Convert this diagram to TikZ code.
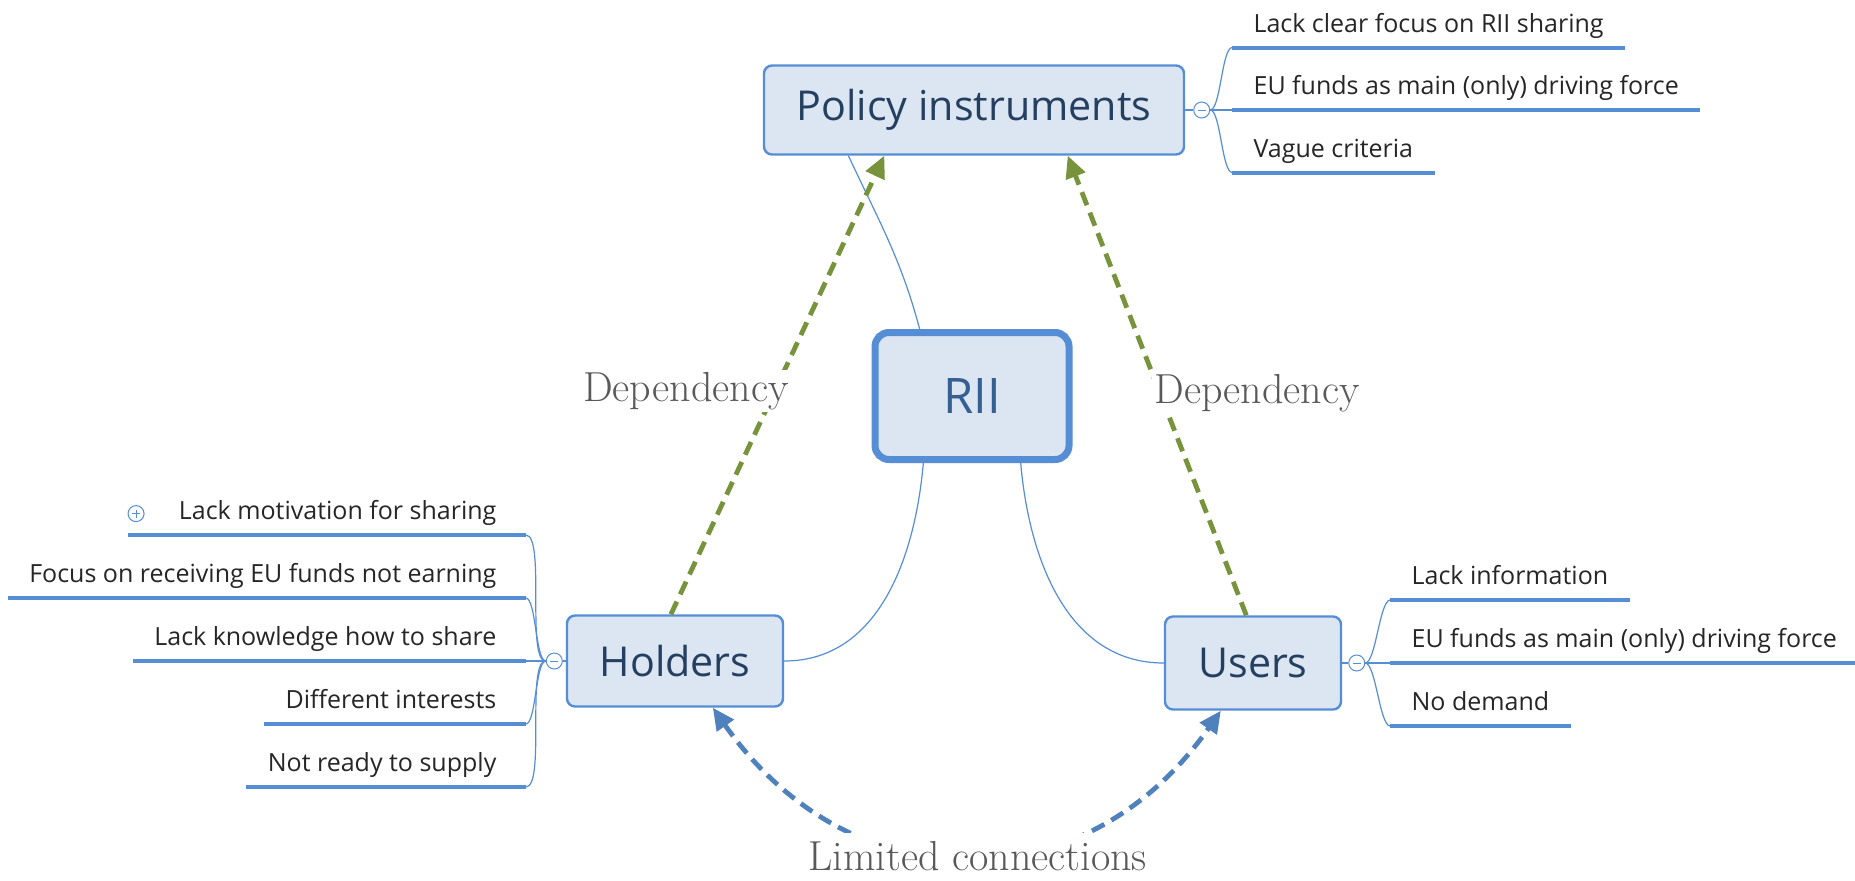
\documentclass[tikz,border=0pt]{standalone}
\usepackage{fontspec}
\usepackage{tikz}
\usepackage{xcolor}
\usetikzlibrary{arrows.meta,calc,positioning}
\newfontfamily\mapfont{Open Sans}
\definecolor{mapblue}{HTML}{558ED5}
\definecolor{mapfill}{HTML}{DCE6F2}
\definecolor{mapnavy}{HTML}{243F60}
\definecolor{riiblue}{HTML}{366092}
\definecolor{depgreen}{HTML}{77933C}
\definecolor{conblue}{HTML}{4F81BD}
\definecolor{notegray}{HTML}{595959}
\definecolor{itemtext}{HTML}{262626}
\tikzset{%
	topic/.style    = {draw=mapblue, fill=mapfill, rectangle, rounded corners=4pt, line width=1.2pt, text=mapnavy, font=\mapfont\fontsize{20.6}{24}\selectfont},
	central/.style  = {topic, rounded corners=7pt, line width=3.5pt, minimum width=97pt, minimum height=63.5pt, text=riiblue, font=\mapfont\fontsize{24.5}{28}\selectfont}, % RII
	item/.style     = {rectangle, inner xsep=10.5pt, inner ysep=4.5pt, text height=9pt, text depth=3pt, text=itemtext, font=\mapfont\fontsize{12.5}{15}\selectfont}, % Subtopic
	itemline/.style = {draw=mapblue, line width=2pt}, % Subtopic line
	branch/.style   = {draw=mapblue, line width=0.6pt},
	knob/.style     = {draw=mapblue, fill=white, circle, minimum size=8pt, inner sep=0pt, line width=0.5pt},
	collapse/.style = {knob, path picture={\draw[mapblue, line width=0.5pt] ([xshift=-2pt]path picture bounding box.center) -- ([xshift=2pt]path picture bounding box.center);}},
	expand/.style   = {knob, path picture={\draw[mapblue, line width=0.5pt] ([xshift=-2pt]path picture bounding box.center) -- ([xshift=2pt]path picture bounding box.center) ([yshift=-2pt]path picture bounding box.center) -- ([yshift=2pt]path picture bounding box.center);}},
}
\tikzset{%
	depend/.style   = {draw=depgreen, line width=2.4pt, dash pattern=on 7pt off 4pt, -{Triangle[length=11pt,width=10pt]}},
	linkage/.style  = {draw=conblue, line width=2.4pt, dash pattern=on 7pt off 4pt, {Triangle[length=11pt,width=10pt]}-{Triangle[length=11pt,width=10pt]}},
	relation/.style = {fill=white, text=notegray, inner sep=1pt, font=\fontsize{21}{25}\selectfont},
}
\begin{document}
\begin{tikzpicture}[x=0.5pt,y=0.5pt]
	\useasboundingbox[fill=white] (0,0) rectangle (1855,-880);
	\node [central] (rii) at (972,-396) {RII};
	\node [topic,minimum width=210pt,minimum height=44.5pt] (policy) at (974,-110) {Policy instruments};
	\node [topic,minimum width=108pt,minimum height=45.5pt] (holders) at (675,-661) {Holders};
	\node [topic,minimum width=88pt,minimum height=46.5pt] (users) at (1253,-663) {Users};
	
	\draw [branch] (rii.128) to[out=105,in=-65] (policy.-160);
	\draw [branch] (rii.-126) to[out=-95,in=0] (holders.east);
	\draw [branch] (rii.-54) to[out=-85,in=180] (users.west);
	
	% policy instruments
	\node [collapse] (pknob) [right=4pt of policy] {};
	\coordinate [right=11pt of pknob] (pb2);
	\coordinate [above=31.25pt of pb2] (pb1);
	\coordinate [below=31.25pt of pb2] (pb3);
	\node [item,anchor=south west] (p1) at (pb1) {Lack clear focus on RII sharing};
	\node [item,anchor=south west] (p2) at (pb2) {EU funds as main (only) driving force};
	\node [item,anchor=south west] (p3) at (pb3) {Vague criteria};
	\draw [branch] (policy.east) -- (pknob);
	\draw [branch] (pknob.east) to[out=0,in=180,looseness=.4] (pb1);
	\draw [branch] (pknob.east) -- (pb2);
	\draw [branch] (pknob.east) to[out=0,in=180,looseness=.4] (pb3);
	\draw [itemline] (p1.south west) -- (p1.south east);
	\draw [itemline] (p2.south west) -- (p2.south east);
	\draw [itemline] (p3.south west) -- (p3.south east);
	
	% holders
	\node [collapse] (hknob) [left=1.5pt of holders] {};
	\coordinate [left=10pt of hknob] (hb3);
	\coordinate [above=31.5pt of hb3] (hb2);
	\coordinate [above=31.5pt of hb2] (hb1);
	\coordinate [below=31.5pt of hb3] (hb4);
	\coordinate [below=31.5pt of hb4] (hb5);
	\node [item,anchor=south east] (h1) at ([xshift=-4pt]hb1) {Lack motivation for sharing};
	\node [item,anchor=south east] (h2) at ([xshift=-4pt]hb2) {Focus on receiving EU funds not earning};
	\node [item,anchor=south east] (h3) at ([xshift=-4pt]hb3) {Lack knowledge how to share};
	\node [item,anchor=south east] (h4) at ([xshift=-4pt]hb4) {Different interests};
	\node [item,anchor=south east] (h5) at ([xshift=-4pt]hb5) {Not ready to supply};
	\node [expand] (hplus) [left=6.5pt of h1] {};
	\draw [branch] (holders.west) -- (hknob);
	\draw [branch] (hknob.west) to[out=180,in=0,looseness=.4] (hb1);
	\draw [branch] (hknob.west) to[out=180,in=0,looseness=.4] (hb2);
	\draw [branch] (hknob.west) -- (hb3);
	\draw [branch] (hknob.west) to[out=180,in=0,looseness=.4] (hb4);
	\draw [branch] (hknob.west) to[out=180,in=0,looseness=.4] (hb5);
	\draw [itemline] (hplus.west |- h1.south) -- (hb1);
	\draw [itemline] (h2.south west) -- (hb2);
	\draw [itemline] (h3.south west) -- (hb3);
	\draw [itemline] (h4.south west) -- (hb4);
	\draw [itemline] (h5.south west) -- (hb5);
	
	% users
	\node [collapse] (uknob) [right=3pt of users] {};
	\coordinate [right=12.5pt of uknob] (ub2);
	\coordinate [above=31.5pt of ub2] (ub1);
	\coordinate [below=31.5pt of ub2] (ub3);
	\node [item,anchor=south west] (u1) at (ub1) {Lack information};
	\node [item,anchor=south west] (u2) at (ub2) {EU funds as main (only) driving force};
	\node [item,anchor=south west] (u3) at (ub3) {No demand};
	\draw [branch] (users.east) -- (uknob);
	\draw [branch] (uknob.east) to[out=0,in=180,looseness=.4] (ub1);
	\draw [branch] (uknob.east) -- (ub2);
	\draw [branch] (uknob.east) to[out=0,in=180,looseness=.4] (ub3);
	\draw [itemline] (u1.south west) -- (u1.south east);
	\draw [itemline] (u2.south west) -- (u2.south east);
	\draw [itemline] (u3.south west) -- (u3.south east);
	
	% relations
	\draw [depend] (holders.95) -- node[relation,pos=0.487,anchor=east,xshift=9pt] (depleft) {Dependency} (policy.-153);
	\draw [depend] (users.98) -- node[relation,pos=0.483,anchor=west,xshift=-5pt] (depright) {Dependency} (policy.-26);
	\draw [linkage] (holders.-51) to[out=-55,in=-125,looseness=1.2] node[relation,pos=0.5,inner xsep=5pt,inner ysep=4pt,xshift=5.5pt] (limited) {Limited connections} (users.-124);
\end{tikzpicture}
\end{document}
